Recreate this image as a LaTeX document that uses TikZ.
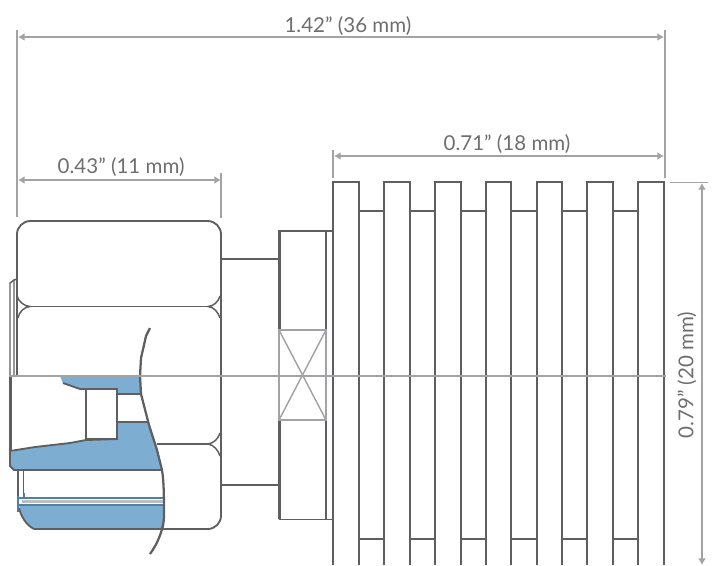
\documentclass[tikz,border=0pt]{standalone}
\usepackage{fontspec}
\setmainfont{Lato}
\usetikzlibrary{arrows.meta}
\definecolor{bodyline}{HTML}{5F5F62}
\definecolor{dimline}{HTML}{A3A3A5}
\definecolor{dimtext}{HTML}{6E6E70}
\definecolor{cutblue}{HTML}{7DADD1}
\definecolor{cutedge}{HTML}{4F7FA3}
\tikzset{
  outline/.style={draw=bodyline, line width=1.4pt},
  heavyline/.style={draw=bodyline, line width=2.7pt},
  paleline/.style={draw=dimline, line width=1.1pt},
  extline/.style={draw=dimline, line width=1.2pt},
  dimarrow/.style={draw=dimline, line width=1.2pt, {Latex[length=5pt,width=6pt]}-{Latex[length=5pt,width=6pt]}},
  dimlabel/.style={text=dimtext, font=\fontsize{15.4}{15.4}\selectfont, inner sep=0pt},
  cutfill/.style={fill=cutblue, draw=none}
}
\begin{document}
\begin{tikzpicture}[x=0.75pt, y=-0.75pt]
	\useasboundingbox (0,0) rectangle (712,565);

	% blue sections
	\path[cutfill] (60,376) -- (63,383) -- (80,389) -- (117,389) -- (117,394) -- (142,394) -- (140,376) -- cycle;
	\path[cutfill] (118,422) -- (149,422) -- (162,470) -- (14,470) -- (10,466) -- (10,452) -- (35,447) -- (70,443) -- (86,440) -- (118,439) -- cycle;
	\path[cutfill] (19,505) -- (164,505) -- (164,529) -- (34,529) .. controls (26,525) and (21,516) .. cycle;
	\draw[cutedge, line width=1.8pt] (19,498) -- (164,498);
	\draw[cutedge, line width=1.9pt] (19,505) -- (164,505);
	\draw[dimline!70, line width=1.6pt] (22,501.5) -- (163,501.5);
	\draw[cutedge, line width=1.9pt] (18,495) -- (18,512);
	\draw[cutedge, line width=1.6pt] (24,493) -- (24,498);
	\draw[cutedge, line width=1.9pt] (164,495) -- (164,518);

	% hex nut
	\draw[outline, rounded corners=10pt] (17,376) -- (17,221) -- (221,221) -- (221,529) -- (34,529);
	\draw[outline] (34,529) .. controls (26,525) and (21,516) .. (19,508);
	\draw[outline] (30,306.5) -- (208,306.5);
	\draw[outline] (157,444) -- (208,444);
	\draw[outline, line width=1.1pt] (17,296) .. controls (19,302) and (24,306) .. (30,306.5) .. controls (24,307) and (19,312) .. (18,318);
	\draw[outline, line width=1.1pt] (220,296) .. controls (218,302) and (214,306) .. (208,306.5) .. controls (214,307) and (218,312) .. (220,318);
	\draw[outline, line width=1.1pt] (220,433) .. controls (218,439) and (214,443) .. (208,444) .. controls (214,445) and (218,450) .. (220,456);

	% left flap
	\draw[paleline, draw=bodyline] (17,279) -- (14,280) -- (14,375);
	\draw[paleline, draw=bodyline] (14,280) -- (10,283) -- (10,375);
	\draw[heavyline] (10.5,376) -- (10.5,451);
	\draw[outline] (10,451) -- (35,447) -- (70,443) -- (86,440) -- (118,439);
	\draw[outline] (10,451) -- (10,466) -- (14,470) -- (162,470);
	\draw[outline] (18,470) -- (18,496);
	\draw[outline] (23.5,470) -- (23.5,494);

	% inner bore
	\draw[outline] (63,383) -- (80,389) -- (117,389);
	\draw[outline] (86,389) rectangle (117,439);
	\draw[outline] (117,394) -- (142,394);
	\draw[outline, line width=2.2pt] (118,422) -- (149,422);

	% break line
	\draw[outline, line width=1.7pt] (150,328) -- (146,336) -- (144,345) -- (141,358) -- (140,376) -- (141,394) -- (149,425) -- (157,450) -- (162,470) .. controls (164,482) and (164,500) .. (164,518) .. controls (163,530) and (158,543) .. (150,554);

	% neck
	\draw[outline, line width=1.2pt] (221,259) -- (279,259);
	\draw[outline, line width=1.2pt] (221,485) -- (279,485);

	% collar
	\draw[heavyline] (279.5,230) -- (279.5,330);
	\draw[heavyline] (279.5,421) -- (279.5,519);
	\draw[outline] (279,231) -- (333,231);
	\draw[outline] (279,519.5) -- (333,519.5);
	\draw[outline, line width=1.7pt] (326,231) -- (326,330);
	\draw[outline, line width=1.7pt] (326,421) -- (326,519);
	\draw[paleline] (279,330) rectangle (326,420);
	\draw[paleline] (279,330) -- (326,420);
	\draw[paleline] (326,330) -- (279,420);

	% fins
	\foreach \finl/\finr in {333/359, 384/410, 435/461, 486/511, 537/562, 587/613, 638/664}{
		\draw[outline, line width=1.8pt] (\finl,565) -- (\finl,182) -- (\finr,182) -- (\finr,565);
	}
	\foreach \gapl/\gapr in {359/384, 410/435, 461/486, 511/537, 562/587, 613/638}{
		\draw[outline] (\gapl,211) -- (\gapr,211);
		\draw[outline] (\gapl,539) -- (\gapr,539);
	}

	% centre line
	\draw[dimline, line width=1.9pt] (9,376) -- (666,376);

	% dimensions
	\coordinate (overallL) at (18,37);
	\coordinate (overallR) at (664,37);
	\coordinate (finsL) at (334,156);
	\coordinate (finsR) at (664,156);
	\coordinate (nutL) at (18,180);
	\coordinate (nutR) at (221,180);
	\coordinate (heightT) at (702,183);
	\coordinate (heightB) at (702,565);

	\draw[extline] (17,30) -- (17,217);
	\draw[extline] (665,30) -- (665,178);
	\draw[extline] (333,150) -- (333,178);
	\draw[extline] (221,173) -- (221,218);
	\draw[extline] (670,182.5) -- (708,182.5);

	\draw[dimarrow] (overallL) -- node[pos=0.5, xshift=5.2pt, yshift=8.5pt, dimlabel] (overallText) {1.42” (36 mm)} (overallR);
	\draw[dimarrow] (finsL) -- node[pos=0.5, xshift=6pt, yshift=8.8pt, dimlabel] (finsText) {0.71” (18 mm)} (finsR);
	\draw[dimarrow] (nutL) -- node[pos=0.5, xshift=1.2pt, yshift=9.5pt, dimlabel] (nutText) {0.43” (11 mm)} (nutR);
	\draw[dimarrow] (heightT) -- (heightB);
	\node[dimlabel, rotate=90] (heightText) at (687,375) {0.79” (20 mm)};
\end{tikzpicture}
\end{document}
